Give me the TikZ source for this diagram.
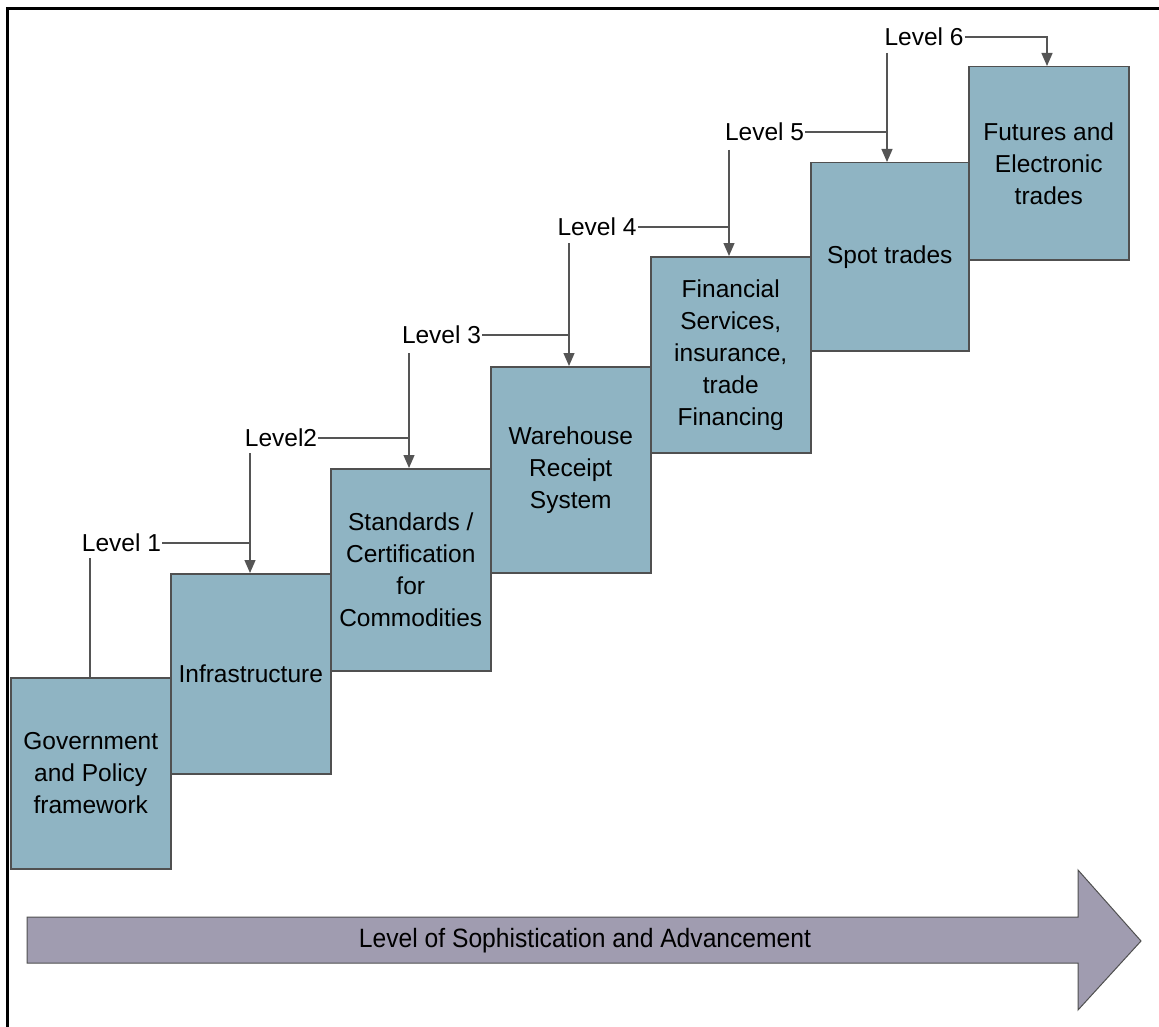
\documentclass[tikz,border=0pt]{standalone}
\usepackage{fontspec}
\setmainfont{Liberation Sans}
\usetikzlibrary{arrows.meta}
\definecolor{stepfill}{RGB}{143,180,195}
\definecolor{stepline}{RGB}{80,80,80}
\definecolor{bandfill}{RGB}{160,156,176}
\definecolor{linkgray}{RGB}{85,85,85}
\begin{document}
\begin{tikzpicture}[x=1pt,y=-1pt,
  stepbox/.style={draw=stepline,fill=stepfill,line width=1.5pt,anchor=north west,
    minimum width=160pt,inner sep=0pt,align=center,
    font=\fontsize{24.5}{32}\selectfont},
  lvl/.style={inner sep=1pt,font=\fontsize{24.5}{30}\selectfont},
  link/.style={draw=linkgray,line width=1.3pt},
  linkarrow/.style={link,-{Triangle[length=13pt,width=11pt]}}]
\useasboundingbox (0,0) rectangle (1159,1027);

% outer frame (top and left edges only)
\draw[line width=3pt] (7,1027) -- (7,9) -- (1159,9);

% staircase of steps
\node[stepbox,minimum height=191pt] (g1) at (10,677) {Government\\and Policy\\framework};
\node[stepbox,minimum height=200pt] (g2) at (170,573) {Infrastructure};
\node[stepbox,minimum height=202pt] (g3) at (330,468) {Standards /\\Certification\\for\\Commodities};
\node[stepbox,minimum height=206pt] (g4) at (490,366) {Warehouse\\Receipt\\System};
\node[stepbox,minimum height=196pt] (g5) at (650,256) {Financial\\Services,\\insurance,\\trade\\Financing};
\node[stepbox,minimum height=188pt,minimum width=158pt] (g6) at (810,162) {Spot trades};
\node[stepbox,minimum height=193pt] (g7) at (968,66) {Futures and\\Electronic\\trades};

% level labels
\node[lvl] (L1) at (121.5,543) {Level 1};
\node[lvl] (L2) at (281,438) {Level2};
\node[lvl] (L3) at (441.5,335) {Level 3};
\node[lvl] (L4) at (597,227) {Level 4};
\node[lvl] (L5) at (764.5,132) {Level 5};
\node[lvl] (L6) at (924,37) {Level 6};

% tops of the drop lines below each label
\coordinate (v1) at (90,558);
\coordinate (v2) at (250,453);
\coordinate (v3) at (409,353);
\coordinate (v4) at (569,243);
\coordinate (v5) at (729,150);
\coordinate (v6) at (887,53);
\coordinate (v7) at (1047,37);

% drop lines
\draw[link] (v1) -- (v1 |- g1.north);
\draw[linkarrow] (v2) -- (v2 |- g2.north);
\draw[linkarrow] (v3) -- (v3 |- g3.north);
\draw[linkarrow] (v4) -- (v4 |- g4.north);
\draw[linkarrow] (v5) -- (v5 |- g5.north);
\draw[linkarrow] (v6) -- (v6 |- g6.north);

% leaders from each label to the next step
\draw[link] (L1.east) -- (L1.east -| v2);
\draw[link] (L2.east) -- (L2.east -| v3);
\draw[link] (L3.east) -- (L3.east -| v4);
\draw[link] (L4.east) -- (L4.east -| v5);
\draw[link] (L5.east) -- (L5.east -| v6);
\draw[linkarrow] (L6.east) -| (v7 |- g7.north);

% progress arrow along the bottom
\draw[draw=stepline,fill=bandfill,line width=1pt]
  (27,917) -- (1078,917) -- (1078,870) -- (1141,941) -- (1078,1010)
  -- (1078,963) -- (27,963) -- cycle;
\node[inner sep=0pt,font=\fontsize{26.5}{30}\selectfont] (band) at (585,941)
  {\scalebox{0.93}[1]{Level of Sophistication and Advancement}};
\end{tikzpicture}
\end{document}
